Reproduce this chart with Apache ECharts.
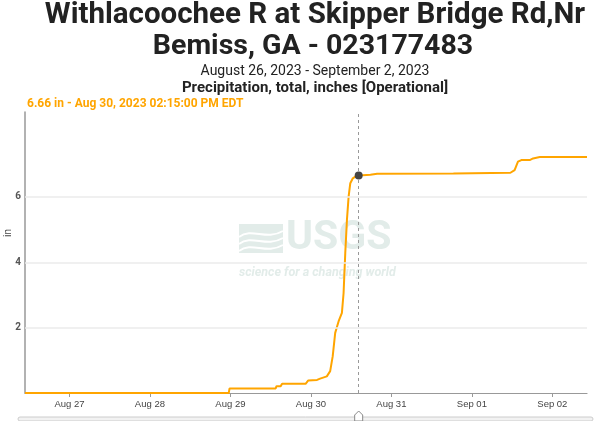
<!DOCTYPE html>
<html>
<head>
<meta charset="utf-8">
<script src="https://cdn.jsdelivr.net/npm/echarts@6/dist/echarts.min.js"></script>
<style>
html,body{margin:0;padding:0;background:#fff;}
#c{width:600px;height:421px;}
</style>
</head>
<body>
<div id="c"></div>
<script>
// ---- data ----
const times = [
  '2023-08-26 10:45','2023-08-28 23:30','2023-08-28 23:45','2023-08-29 13:30','2023-08-29 13:45',
  '2023-08-29 15:00','2023-08-29 15:25','2023-08-29 22:25','2023-08-29 23:10','2023-08-29 23:45',
  '2023-08-30 01:50','2023-08-30 02:45','2023-08-30 04:45','2023-08-30 05:45','2023-08-30 06:30',
  '2023-08-30 07:15','2023-08-30 08:15','2023-08-30 09:15','2023-08-30 09:45','2023-08-30 10:15',
  '2023-08-30 10:45','2023-08-30 11:15','2023-08-30 11:45','2023-08-30 12:30','2023-08-30 13:15',
  '2023-08-30 14:15','2023-08-30 17:45','2023-08-30 19:45','2023-08-31 18:30','2023-09-01 11:30',
  '2023-09-01 12:45','2023-09-01 13:45','2023-09-01 14:45','2023-09-01 17:15','2023-09-01 18:15',
  '2023-09-01 20:15','2023-09-02 10:20'
];
const values = [
  0,0,0.14,0.14,0.21,
  0.21,0.28,0.28,0.38,0.39,
  0.40,0.44,0.51,0.67,1.12,
  1.84,2.19,2.45,3.06,4.28,
  5.30,6.01,6.42,6.57,6.62,
  6.66,6.68,6.71,6.72,6.74,
  6.82,7.08,7.13,7.13,7.18,
  7.22,7.22
];
const yTicks = [2, 4, 6];
const hoverTime = '2023-08-30 14:15';
const hoverValue = 6.66;
const titleLines = ['Withlacoochee R at Skipper Bridge Rd,Nr', 'Bemiss, GA - 023177483'];
const dateLine = 'August 26, 2023 - September 2, 2023';
const paramLine = 'Precipitation, total, inches [Operational]';
const hoverLabel = '6.66 in - Aug 30, 2023 02:15:00 PM EDT';

const ORANGE = '#FFA500';
const WM = '#e2ece9';
const TF = 'Roboto, "Noto Sans", sans-serif';

const chart = echarts.init(document.getElementById('c'), null, {renderer: 'canvas'});

const seriesData = times.map((t, i) => [t, values[i]]);

function wave(y) {
  return {type: 'bezierCurve', z: 0, silent: true,
    shape: {x1: 239, y1: y + 4, cpx1: 252, cpy1: y - 6, cpx2: 266, cpy2: y + 8, x2: 283, y2: y - 2},
    style: {stroke: '#fff', lineWidth: 2, fill: null}};
}

const baseGraphic = [
  // watermark
  {type: 'rect', z: 0, silent: true, shape: {x: 239, y: 224, width: 44, height: 29}, style: {fill: WM}},
  wave(233), wave(240), wave(247),
  {type: 'text', z: 0, silent: true, x: 286, y: 239, style: {text: 'USGS', fill: WM, font: 'bold 41px ' + TF, align: 'left', verticalAlign: 'middle'}},
  {type: 'text', z: 0, silent: true, x: 239, y: 273, style: {text: 'science for a changing world', fill: WM, font: 'italic bold 12.5px ' + TF, align: 'left', verticalAlign: 'middle'}},
  // titles
  {type: 'text', x: 315, y: 16, style: {text: titleLines[0], fill: '#222', font: 'bold 29.5px ' + TF, align: 'center', verticalAlign: 'middle'}},
  {type: 'text', x: 313, y: 47, style: {text: titleLines[1], fill: '#222', font: 'bold 28.5px ' + TF, align: 'center', verticalAlign: 'middle'}},
  {type: 'text', x: 315, y: 71, style: {text: dateLine, fill: '#222', font: '14px ' + TF, align: 'center', verticalAlign: 'middle'}},
  {type: 'text', x: 315, y: 88, style: {text: paramLine, fill: '#222', font: 'bold 15px ' + TF, align: 'center', verticalAlign: 'middle'}},
  {type: 'text', x: 27, y: 104, style: {text: hoverLabel, fill: ORANGE, font: 'bold 12px ' + TF, align: 'left', verticalAlign: 'middle'}},
  // axis name
  {type: 'text', x: 8, y: 233, rotation: Math.PI / 2, style: {text: 'in', fill: '#444', font: '10px ' + TF, align: 'center', verticalAlign: 'middle'}},
  // slider track
  {type: 'rect', shape: {x: 18, y: 417, width: 575, height: 4, r: 2}, style: {fill: '#f2f2f2', stroke: '#ccc', lineWidth: 1}}
];

const option = {
  animation: false,
  grid: {left: 25, right: 13, top: 112, bottom: 28, containLabel: false},
  xAxis: {
    type: 'time',
    min: times[0],
    max: times[times.length - 1],
    minInterval: 86400000,
    maxInterval: 86400000,
    axisLine: {show: true, lineStyle: {color: '#999', width: 1.2}},
    axisTick: {show: true, length: 4, lineStyle: {color: '#999'}},
    splitLine: {show: false},
    axisLabel: {
      formatter: '{MMM} {dd}',
      color: '#444', fontSize: 9.5, fontFamily: '"Liberation Sans", Arial, sans-serif',
      margin: 6
    }
  },
  yAxis: {
    type: 'value',
    min: 0,
    max: 8.6,
    axisLine: {show: true, lineStyle: {color: '#999', width: 1.5}},
    axisTick: {show: false},
    splitLine: {show: false},
    axisLabel: {
      customValues: yTicks,
      color: '#555', fontSize: 10, fontWeight: 'bold', fontFamily: TF, margin: 4
    }
  },
  graphic: baseGraphic,
  series: [{
    type: 'line',
    data: seriesData,
    showSymbol: false,
    lineStyle: {color: ORANGE, width: 2},
    itemStyle: {color: ORANGE},
    z: 3,
    markLine: {
      silent: true,
      symbol: 'none',
      label: {show: false},
      animation: false,
      data: yTicks.map(v => ({yAxis: v, lineStyle: {color: '#ebebeb', width: 1.5, type: 'solid'}}))
        .concat([{xAxis: hoverTime, lineStyle: {color: '#999', width: 1, type: [3, 3]}}])
    },
    markPoint: {
      silent: true,
      symbol: 'circle',
      symbolSize: 8,
      label: {show: false},
      itemStyle: {color: '#444'},
      data: [{coord: [hoverTime, hoverValue]}]
    }
  }]
};

chart.setOption(option);

// slider handle placed at the hovered time
const hx = chart.convertToPixel({xAxisIndex: 0}, hoverTime);
chart.setOption({
  graphic: baseGraphic.concat([{
    type: 'polygon',
    shape: {points: [[hx - 4, 421], [hx - 4, 415], [hx, 411], [hx + 4, 415], [hx + 4, 421]]},
    style: {fill: '#fff', stroke: '#888', lineWidth: 1}
  }])
});
</script>
</body>
</html>
